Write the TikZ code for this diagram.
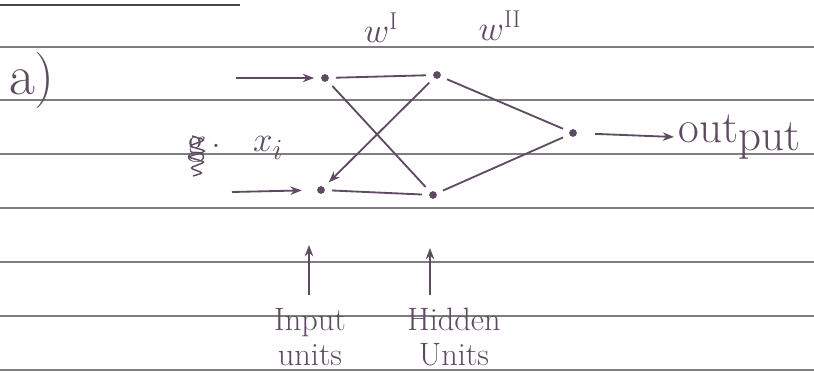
\documentclass[tikz,border=0pt]{standalone}
\usepackage{amsmath}
\usepackage{xcolor}
\usetikzlibrary{arrows.meta}
\definecolor{penink}{HTML}{5E4A62}
\definecolor{ruleline}{HTML}{7E7E7E}
\definecolor{rulemark}{HTML}{4A4A4A}

\begin{document}
\begin{tikzpicture}[
  x=0.025cm,
  y=-0.025cm,
  every node/.style={text=penink},
  unit/.style={circle, fill=penink, inner sep=0pt, minimum size=5.5pt, outer sep=5pt},
  wire/.style={penink, line width=1.3pt},
  feed/.style={wire, -{Stealth[length=8pt, width=6pt]}},
  hand/.style={font=\fontsize{23}{25}\selectfont}
]
  \useasboundingbox (0,0) rectangle (814,373);
  \fill[white] (0,0) rectangle (814,373);

  % ruled paper
  \draw[rulemark, line width=1.3pt] (0,5) -- (240,5);
  \foreach \y in {47,100,154,208,262,316,370}
    \draw[ruleline, line width=1.1pt] (0,\y) -- (814,\y);

  \node[font=\fontsize{40}{42}\selectfont] (part) at (32,80) {a)};

  % units
  \node[unit] (in1) at (325,78) {};
  \node[unit] (in2) at (321,190) {};
  \node[unit] (hid1) at (437,75) {};
  \node[unit] (hid2) at (433,195) {};
  \node[unit] (out) at (573,133) {};

  % weights
  \node[font=\fontsize{27}{29}\selectfont] (wone) at (381,28) {$w^{\mathrm{I}}$};
  \node[font=\fontsize{27}{29}\selectfont] (wtwo) at (500,26) {$w^{\mathrm{II}}$};

  % inputs
  \node[font=\fontsize{28}{30}\selectfont] (scrib) at (197,150) {g};
  \node[font=\fontsize{28}{30}\selectfont] (scribdot) at (216,146) {.};
  \draw[wire, line width=1pt, rounded corners=2pt] (192,136) -- (205,140) -- (189,146) -- (206,151)
    -- (188,157) -- (205,162) -- (190,168) -- (203,173) -- (193,176);
  \node[font=\fontsize{30}{32}\selectfont] (xin) at (268,148) {$x_i$};
  \coordinate (src1) at (236,78);
  \coordinate (src2) at (232,192);
  \draw[feed] (src1) -- (in1);
  \draw[feed, shorten >=6pt] (src2) -- (in2);

  \draw[wire] (in1) -- (hid1);
  \draw[wire] (in2) -- (hid2);
  \draw[wire] (in1) -- (hid2);
  \draw[feed] (hid1) -- (in2);
  \draw[wire] (hid1) -- (out);
  \draw[wire] (hid2) -- (out);

  % output
  \node[font=\fontsize{32}{34}\selectfont, anchor=west] (outlbl) at (674,137)
    {out\raisebox{-0.4ex}{put}};
  \draw[feed, shorten <=8pt] (out) -- (outlbl.west);

  % layer labels
  \node[hand, align=center] (inlbl) at (310,337) {Input\\units};
  \node[hand, align=center] (hidlbl) at (454,337) {Hidden\\Units};
  \coordinate (inpoint) at (309,245);
  \coordinate (hidpoint) at (430,248);
  \draw[feed] (inlbl.north -| inpoint) ++(0,-8) -- (inpoint);
  \draw[feed] (hidlbl.north -| hidpoint) ++(0,-8) -- (hidpoint);
\end{tikzpicture}
\end{document}
